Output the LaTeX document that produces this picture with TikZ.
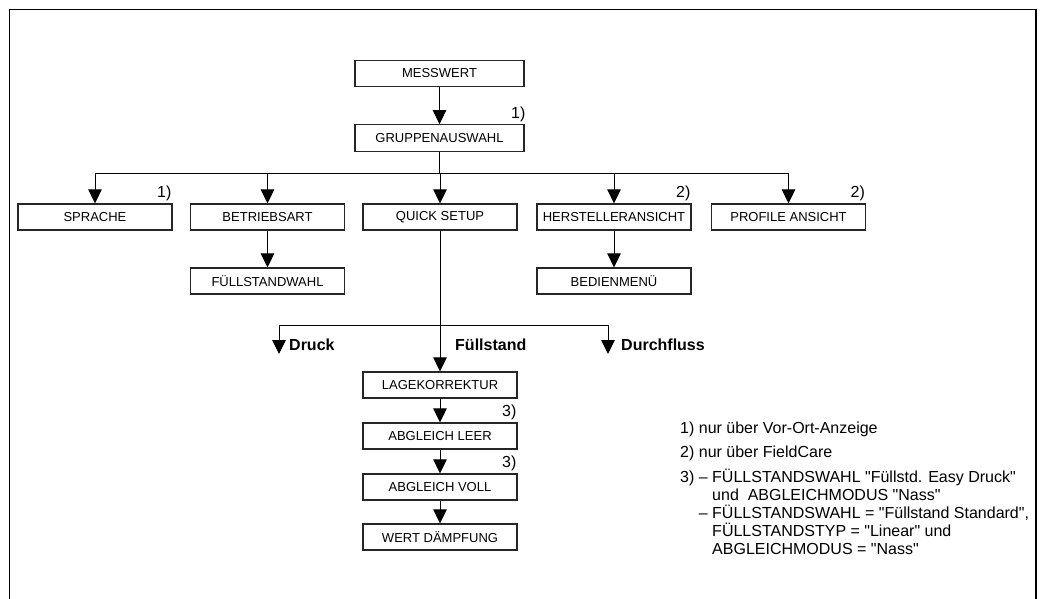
\documentclass[tikz,border=0pt]{standalone}
\usepackage{fontspec}
\setmainfont{Liberation Sans}[Ligatures=TeXOff]
\usepackage{tikz}
\usetikzlibrary{arrows.meta}
\tikzset{
  box/.style={draw=black!85,line width=1.2pt,fill=white,minimum width=154pt,minimum height=26pt,inner sep=0pt,font=\fontsize{13}{15}\selectfont},
  wbox/.style={box,minimum width=169pt,minimum height=26.5pt},
  ln/.style={line width=1pt},
  arr/.style={line width=1pt,-{Triangle[length=14pt,width=13.5pt]}},
  mk/.style={inner sep=0pt,font=\fontsize{16}{18}\selectfont},
  br/.style={inner sep=0pt,font=\fontsize{16}{18}\selectfont\bfseries},
  rahmen/.style={line width=1.8pt}
}

\begin{document}
\begin{tikzpicture}[x=1pt,y=-1pt]
\useasboundingbox (0,0) rectangle (1043,599);
\draw[rahmen] (9.5,599) -- (9.5,9.5) -- (1036,9.5) -- (1036,599);
\node[wbox] (mess) at (439.5,73.5) {MESSWERT};
\node[wbox] (gruppe) at (439.5,138) {GRUPPENAUSWAHL};
\node[box] (sprache) at (95,217) {SPRACHE};
\node[box] (betrieb) at (267.5,217) {BETRIEBSART};
\node[box] (quick) at (440,217) {QUICK SETUP};
\node[box] (hersteller) at (614,217) {HERSTELLERANSICHT};
\node[box] (profil) at (788.5,217) {PROFILE ANSICHT};
\node[box] (fuellwahl) at (267.5,281) {FÜLLSTANDWAHL};
\node[box] (bedien) at (614,281) {BEDIENMENÜ};
\node[box] (lage) at (440,385) {LAGEKORREKTUR};
\node[box] (leer) at (440,436) {ABGLEICH LEER};
\node[box] (voll) at (440,487) {ABGLEICH VOLL};
\node[box] (daempf) at (440,537) {WERT DÄMPFUNG};
\draw[arr] (mess) -- (gruppe); \node[mk,anchor=south east] (m1) at ([shift={(1,-2)}]gruppe.north east) {1)};
\coordinate (bus) at (440,173);
\draw[ln] (gruppe.south) -- (gruppe.south |- bus);
\draw[ln] (sprache.north |- bus) -- (profil.north |- bus);
\foreach \n in {sprache,betrieb,quick,hersteller,profil} \draw[arr] (\n.north |- bus) -- (\n.north);
\node[mk,anchor=south east] (m2) at ([shift={(-1,-2)}]sprache.north east) {1)};
\node[mk,anchor=south east] (m3) at ([shift={(-1,-2)}]hersteller.north east) {2)};
\node[mk,anchor=south east] (m4) at ([shift={(-1,-2)}]profil.north east) {2)};
\draw[arr] (betrieb) -- (fuellwahl);
\draw[arr] (hersteller) -- (bedien);
\coordinate (bus2) at (440,325); \coordinate (druck) at (279,354); \coordinate (durch) at (608,354);
\draw[ln] (druck |- bus2) -- (durch |- bus2);
\draw[arr] (druck |- bus2) -- (druck); \node[br,anchor=west] (tdruck) at (289,345) {Druck};
\draw[arr] (quick) -- (lage); \node[br,anchor=west] (tfuell) at (455,345) {Füllstand};
\draw[arr] (durch |- bus2) -- (durch); \node[br,anchor=west] (tdurch) at (621,345) {Durchfluss};
\draw[arr] (lage) -- (leer); \node[mk,anchor=south east] (m5) at ([shift={(-1,-2)}]leer.north east) {3)};
\draw[arr] (leer) -- (voll); \node[mk,anchor=south east] (m6) at ([shift={(-1,-2)}]voll.north east) {3)};
\draw[arr] (voll) -- (daempf);
\node[mk,anchor=north west] (fuss) at (680,421) {%
\begin{tabular}{@{}l@{\ }l@{\ }l@{}}
1) & \multicolumn{2}{@{}l@{}}{nur über Vor-Ort-Anzeige}\\[6pt]
2) & \multicolumn{2}{@{}l@{}}{nur über FieldCare}\\[6pt]
3) & – & FÜLLSTANDSWAHL "Füllstd. Easy Druck"\\[-0.5pt]
 & & und~~ABGLEICHMODUS "Nass"\\[-0.5pt]
 & – & FÜLLSTANDSWAHL = "Füllstand Standard",\\[-0.5pt]
 & & FÜLLSTANDSTYP = "Linear" und\\[-0.5pt]
 & & ABGLEICHMODUS = "Nass"
\end{tabular}};
\end{tikzpicture}
\end{document}
